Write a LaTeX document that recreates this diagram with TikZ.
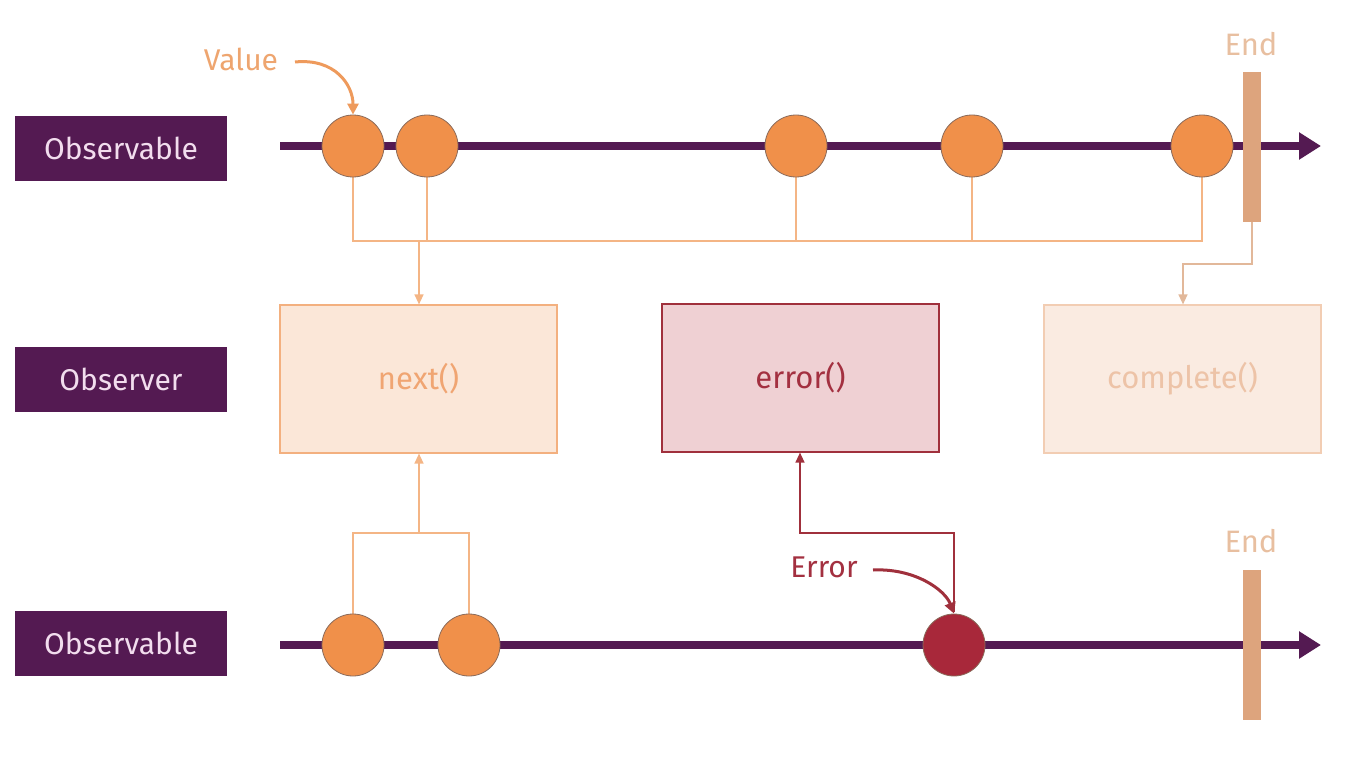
\documentclass[tikz,border=0pt]{standalone}
\usepackage{fontspec}
\setmainfont{Fira Sans}
\usetikzlibrary{arrows.meta}
\definecolor{purp}{HTML}{541A52}
\definecolor{lbltxt}{HTML}{F2DDEE}
\definecolor{orng}{HTML}{F0904A}
\definecolor{orngline}{HTML}{F4B585}
\definecolor{endbarcol}{HTML}{DDA47D}
\definecolor{endtxt}{HTML}{E8BFA0}
\definecolor{valtxt}{HTML}{EEA56F}
\definecolor{valarrow}{HTML}{EE9A5C}
\definecolor{nextfill}{HTML}{FBE7D8}
\definecolor{nextdraw}{HTML}{F3B07F}
\definecolor{nexttxt}{HTML}{F0A572}
\definecolor{errfill}{HTML}{EFD0D3}
\definecolor{errdraw}{HTML}{A0303C}
\definecolor{errtxt}{HTML}{A33040}
\definecolor{errdot}{HTML}{A8283A}
\definecolor{compfill}{HTML}{FAEBE1}
\definecolor{compdraw}{HTML}{F2CDB3}
\definecolor{comptxt}{HTML}{EDC3A7}
\definecolor{compline}{HTML}{E2B89A}
\definecolor{dotborder}{HTML}{8A6A5A}
\begin{document}
\begin{tikzpicture}[x=1pt,y=-1pt,
  lbl/.style={fill=purp,minimum width=212pt,minimum height=65pt,inner sep=0pt,text=lbltxt,font=\fontsize{30}{36}\selectfont},
  marble/.style={circle,fill=orng,draw=dotborder,line width=0.8pt,minimum size=62pt,inner sep=0pt},
  errmarble/.style={marble,fill=errdot},
  timeline/.style={purp,line width=8pt,-{Triangle[length=22pt,width=26pt]}},
  endbarbox/.style={fill=endbarcol,minimum width=18pt,minimum height=150pt,inner sep=0pt},
  endlbl/.style={text=endtxt,font=\fontsize{31}{36}\selectfont},
  fnbox/.style={minimum width=277pt,minimum height=148pt,inner sep=0pt,line width=1.2pt,font=\fontsize{31}{36}\selectfont},
  conn/.style={line width=1.3pt},
  arrowtip/.style={-{Triangle[length=10pt,width=9pt]}},
  curvearrow/.style={line width=3pt,-{Triangle[length=11pt,width=11pt]}}
]
\useasboundingbox (0,0) rectangle (1349,757);
% labels
\node[lbl] (obs1) at (121,148.5) {Observable};
\node[lbl] (obsr) at (121,379.5) {Observer};
\node[lbl] (obs2) at (121,643.5) {Observable};
% timelines
\coordinate (t1s) at (280,146);
\coordinate (t1e) at (1321,146);
\coordinate (t2s) at (280,645);
\coordinate (t2e) at (1321,645);
\draw[timeline] (t1s) -- (t1e);
\draw[timeline] (t2s) -- (t2e);
% function boxes
\node[fnbox,fill=nextfill,draw=nextdraw,text=nexttxt] (next) at (418.5,379) {next()};
\node[fnbox,fill=errfill,draw=errdraw,text=errtxt] (err) at (800.5,378) {error()};
\node[fnbox,fill=compfill,draw=compdraw,text=comptxt] (comp) at (1182.5,379) {complete()};
% top connectors
\coordinate (j1) at (353,241);
\coordinate (j5) at (1202,241);
\coordinate (jn) at (419,241);
\draw[conn,orngline] (353,146) -- (j1) -- (j5) -- (1202,146);
\draw[conn,orngline] (427,146) -- (427,241);
\draw[conn,orngline] (796,146) -- (796,241);
\draw[conn,orngline] (972,146) -- (972,241);
\draw[conn,orngline,arrowtip] (jn) -- (next.north -| jn);
% marbles top
\node[marble] (a1) at (353,146) {};
\node[marble] (a2) at (427,146) {};
\node[marble] (a3) at (796,146) {};
\node[marble] (a4) at (972,146) {};
\node[marble] (a5) at (1202,146) {};
% end bar top
\node[endbarbox] (end1) at (1252,147) {};
\node[endlbl] (end1l) at (1251,44) {End};
\coordinate (c1) at (1252,264);
\coordinate (c2) at (1183,264);
\draw[conn,compline,arrowtip] (end1.south) -- (c1) -- (c2) -- (comp.north -| c2);
% value label
\node[text=valtxt,font=\fontsize{30}{36}\selectfont] (val) at (241,59) {Value};
\draw[curvearrow,valarrow] (295,62) .. controls (335,58) and (353,85) .. (a1.north);
% bottom connectors
\coordinate (b1) at (353,533);
\coordinate (b2) at (469,533);
\coordinate (bn) at (419,533);
\draw[conn,orngline] (353,645) -- (b1) -- (b2) -- (469,645);
\draw[conn,orngline,arrowtip] (bn) -- (next.south -| bn);
\coordinate (e1) at (954,533);
\coordinate (e2) at (800,533);
\draw[conn,errdraw,arrowtip] (954,612) -- (e1) -- (e2) -- (err.south -| e2);
% marbles bottom
\node[marble] (m1) at (353,645) {};
\node[marble] (m2) at (469,645) {};
\node[errmarble] (m3) at (954,645) {};
% error label
\node[text=errtxt,font=\fontsize{30}{36}\selectfont] (errl) at (824,567) {Error};
\draw[curvearrow,errdraw] (873,570) .. controls (915,568) and (945,590) .. (m3.north);
% end bar bottom
\node[endbarbox] (end2) at (1252,645) {};
\node[endlbl] (end2l) at (1251,541) {End};
\end{tikzpicture}
\end{document}
